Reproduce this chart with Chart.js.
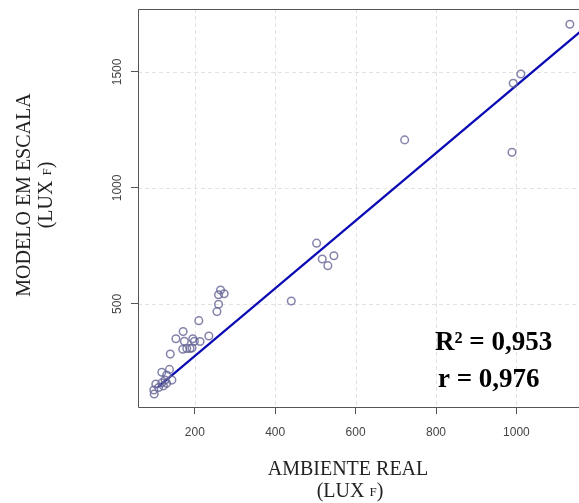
<!DOCTYPE html>
<html>
<head>
<meta charset="utf-8">
<script src="https://cdn.jsdelivr.net/npm/chart.js@4"></script>
<style>
  html, body { margin: 0; padding: 0; background: #fff; }
  #wrap { width: 579px; height: 503px; }
</style>
</head>
<body>
<div id="wrap"><canvas id="c" width="579" height="503"></canvas></div>
<script>
// valores
const realX = [1133, 1011, 992, 989, 722, 503, 517, 546, 531, 440, 264, 259, 273, 259, 255, 210, 235,
  171, 153, 174, 195, 199, 213, 170, 180, 188, 193, 139, 118, 137, 130, 143, 126, 103, 98, 99, 122, 130, 110, 118];
const modeloY = [1705, 1491, 1451, 1154, 1207, 762, 694, 708, 665, 513, 560, 540, 544, 499, 467, 428, 362,
  381, 350, 339, 350, 339, 338, 305, 308, 308, 310, 284, 206, 218, 194, 172, 172, 155, 129, 112, 147, 158, 140, 160];
// reta de regressão (extremos)
const fitX = [108, 1160];
const fitY = [142, 1675];
const xTicks = [200, 400, 600, 800, 1000];
const yTicks = [500, 1000, 1500];

const pontos = realX.map((x, i) => ({ x: x, y: modeloY[i] }));
const reta = fitX.map((x, i) => ({ x: x, y: fitY[i] }));

// grade tracejada, moldura, rótulos do eixo y, títulos e texto de R²
const extras = {
  id: 'extras',
  beforeDatasetsDraw(chart) {
    const { ctx, chartArea: a, scales } = chart;
    ctx.save();
    ctx.strokeStyle = '#e2e2e2';
    ctx.lineWidth = 1;
    ctx.setLineDash([4, 3]);
    xTicks.forEach(v => {
      const px = Math.round(scales.x.getPixelForValue(v)) + 0.5;
      ctx.beginPath(); ctx.moveTo(px, a.top); ctx.lineTo(px, a.bottom); ctx.stroke();
    });
    yTicks.forEach(v => {
      const py = Math.round(scales.y.getPixelForValue(v)) + 0.5;
      ctx.beginPath(); ctx.moveTo(a.left, py); ctx.lineTo(a.right, py); ctx.stroke();
    });
    ctx.restore();
  },
  afterDraw(chart) {
    const { ctx, chartArea: a, scales } = chart;
    ctx.save();
    ctx.strokeStyle = '#555';
    ctx.lineWidth = 1;
    ctx.beginPath();
    ctx.moveTo(a.right, a.top + 0.5);
    ctx.lineTo(a.left + 0.5, a.top + 0.5);
    ctx.lineTo(a.left + 0.5, a.bottom + 0.5);
    ctx.lineTo(a.right, a.bottom + 0.5);
    ctx.stroke();

    // rótulos do eixo y, girados como no R
    ctx.fillStyle = '#444';
    ctx.font = '12px "Liberation Sans"';
    ctx.textAlign = 'center';
    ctx.textBaseline = 'middle';
    yTicks.forEach(v => {
      const py = scales.y.getPixelForValue(v);
      ctx.save();
      ctx.translate(118, py);
      ctx.rotate(-Math.PI / 2);
      ctx.fillText(String(v), 0, 0);
      ctx.restore();
    });

    ctx.fillStyle = '#222';
    const big = '20px "Liberation Serif"';
    const small = '13px "Liberation Serif"';
    function luxF(cx, cy) {
      ctx.font = big;
      const w1 = ctx.measureText('(LUX ').width;
      const w3 = ctx.measureText(')').width;
      ctx.font = small;
      const w2 = ctx.measureText('F').width;
      let x0 = cx - (w1 + w2 + w3) / 2;
      ctx.textAlign = 'left';
      ctx.font = big; ctx.fillText('(LUX ', x0, cy);
      ctx.font = small; ctx.fillText('F', x0 + w1, cy + 1);
      ctx.font = big; ctx.fillText(')', x0 + w1 + w2, cy);
    }
    ctx.textAlign = 'center';
    ctx.font = big;
    ctx.fillText('AMBIENTE REAL', 348, 470);
    luxF(350, 492);

    ctx.save();
    ctx.translate(25, 195);
    ctx.rotate(-Math.PI / 2);
    ctx.textAlign = 'center';
    ctx.font = big;
    ctx.fillText('MODELO EM ESCALA', 0, 0);
    luxF(0, 22);
    ctx.restore();

    ctx.fillStyle = '#000';
    ctx.textAlign = 'left';
    ctx.textBaseline = 'alphabetic';
    ctx.font = 'bold 27px "Liberation Serif"';
    ctx.fillText('R\u00B2 = 0,953', 435, 350);
    ctx.fillText('r = 0,976', 438, 387);
    ctx.restore();
  }
};

new Chart(document.getElementById('c'), {
  type: 'scatter',
  data: {
    datasets: [{
      data: pontos,
      pointRadius: 3.8,
      pointBorderWidth: 1.5,
      pointBorderColor: 'rgba(100,100,150,0.8)',
      pointBackgroundColor: 'rgba(0,0,0,0)',
      pointHoverRadius: 3.8
    }, {
      type: 'line',
      data: reta,
      borderColor: '#0a0ab4',
      borderWidth: 2.2,
      pointRadius: 0,
      fill: false
    }]
  },
  options: {
    responsive: false,
    animation: false,
    layout: { autoPadding: false, padding: { top: 9, left: 0, right: 0, bottom: 0 } },
    plugins: { legend: { display: false }, tooltip: { enabled: false } },
    scales: {
      x: {
        type: 'linear',
        min: 58.7,
        max: 1155.7,
        afterBuildTicks: s => { s.ticks = xTicks.map(v => ({ value: v })); },
        afterFit: s => { s.height = 96; s.paddingLeft = 0; s.paddingRight = 0; },
        grid: { drawOnChartArea: false, drawTicks: true, tickLength: 7, color: '#555' },
        border: { display: false },
        ticks: { color: '#444', padding: 11, font: { family: '"Liberation Sans"', size: 12 }, maxRotation: 0,
          callback: v => String(v) }
      },
      y: {
        type: 'linear',
        min: 56,
        max: 1771,
        afterBuildTicks: s => { s.ticks = yTicks.map(v => ({ value: v })); },
        afterFit: s => { s.width = 138; s.paddingTop = 0; s.paddingBottom = 0; },
        grid: { drawOnChartArea: false, drawTicks: true, tickLength: 7, color: '#555' },
        border: { display: false },
        ticks: { display: false }
      }
    }
  },
  plugins: [extras]
});
</script>
</body>
</html>
